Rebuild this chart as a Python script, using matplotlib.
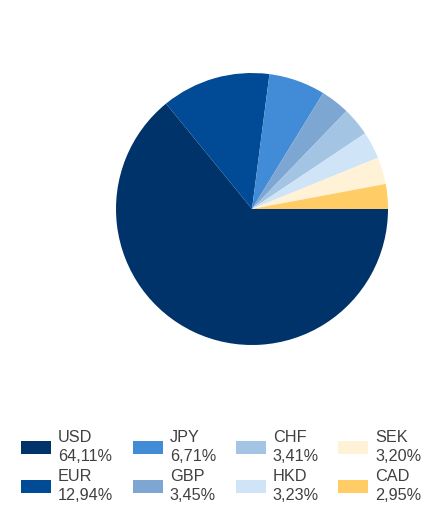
import matplotlib
matplotlib.use('Agg')
import matplotlib.pyplot as plt
from matplotlib.patches import Patch

# 货币占比数据
currencies = ['USD', 'EUR', 'JPY', 'GBP', 'CHF', 'HKD', 'SEK', 'CAD']
shares = [64.11, 12.94, 6.71, 3.45, 3.41, 3.23, 3.20, 2.95]
share_labels = ['64,11%', '12,94%', '6,71%', '3,45%', '3,41%', '3,23%', '3,20%', '2,95%']
colors = ['#00336a', '#004a96', '#428bd6', '#7ea6d3', '#a3c4e3', '#cfe4f7', '#fff2d6', '#ffcc66']

W, H = 427, 508
fig = plt.figure(figsize=(W / 100, H / 100), dpi=100)
fig.patch.set_facecolor('white')

# 饼图区域：中心 (252, 209)，半径 136 像素
cx, cy, r = 252, 209, 136
ax = fig.add_axes([(cx - r) / W, (H - cy - r) / H, 2 * r / W, 2 * r / H])
ax.pie(shares, colors=colors, startangle=0, counterclock=False,
       wedgeprops={'linewidth': 0})
ax.set_aspect('equal')
ax.set_xlim(-1, 1)
ax.set_ylim(-1, 1)

# 图例
plt.rcParams['font.family'] = ['Liberation Sans', 'DejaVu Sans']
handles = [Patch(facecolor=c, edgecolor='none') for c in colors]
labels = [f'{n}\n{p}' for n, p in zip(currencies, share_labels)]
leg = fig.legend(handles, labels, ncol=4, loc='upper left',
                 bbox_to_anchor=(21 / W, (H - 430) / H),
                 frameon=False, fontsize=11.7, handlelength=1.85, handleheight=0.86,
                 handletextpad=0.43, columnspacing=1.2, labelspacing=0.35,
                 borderaxespad=0, borderpad=0)
for t in leg.get_texts():
    t.set_color('#404040')
    t.set_linespacing(1.3)

fig.savefig('out.png', dpi=100, facecolor='white')
